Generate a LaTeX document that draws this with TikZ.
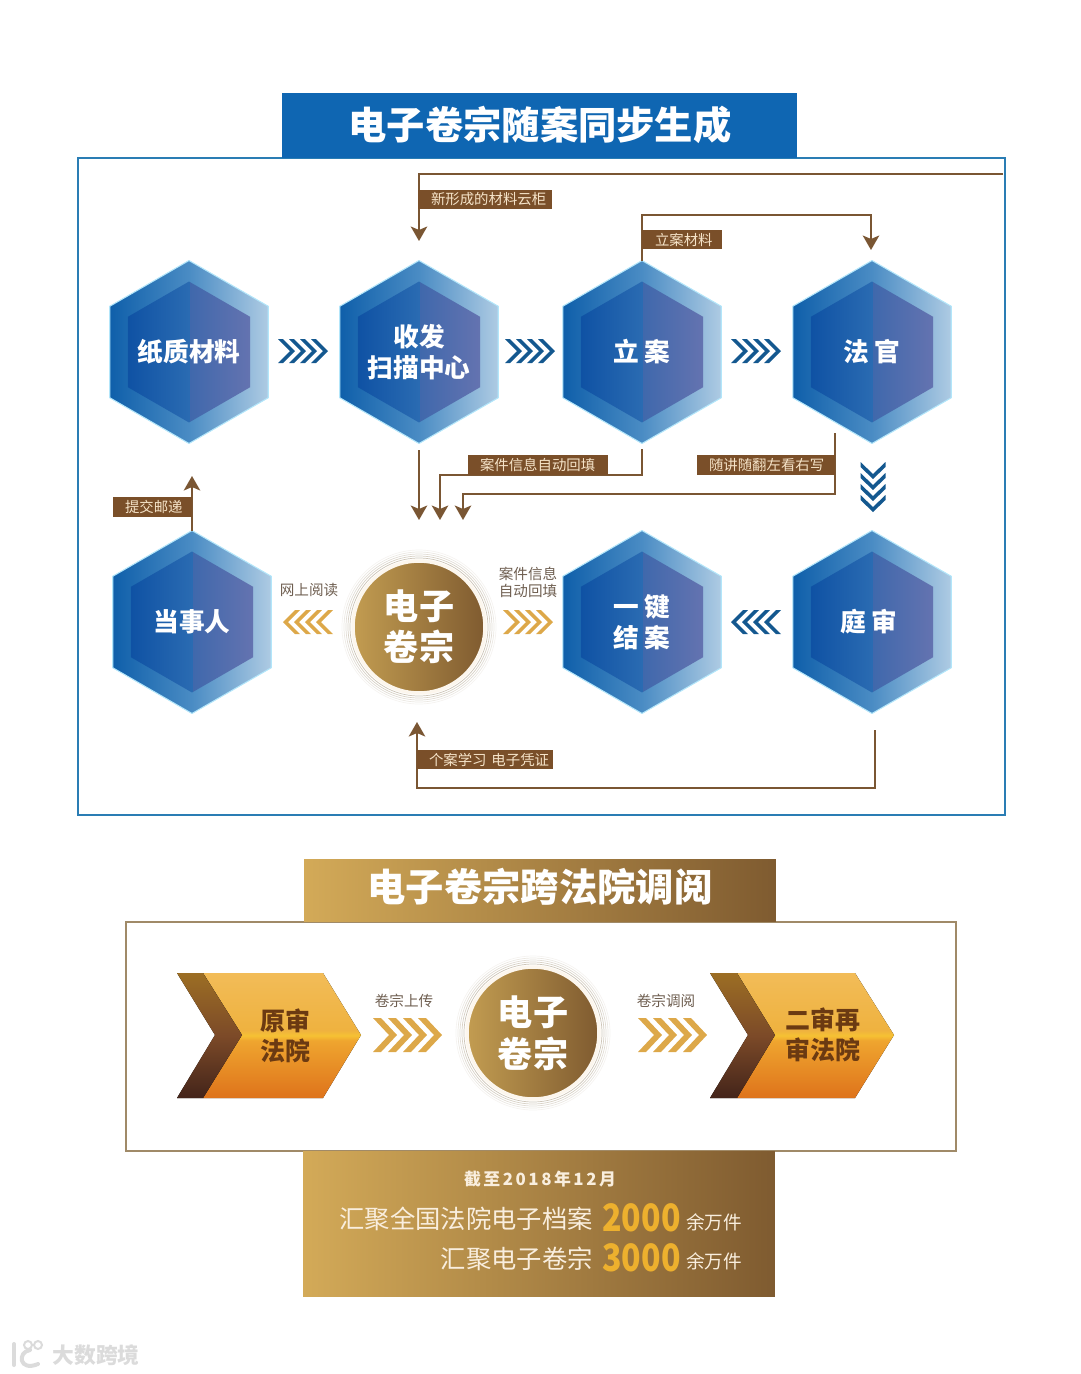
\documentclass[tikz,border=0pt]{standalone}
\usepackage{fontspec}
\usepackage{xcolor}
\usetikzlibrary{arrows.meta,shapes.geometric}
\setmainfont{Noto Sans CJK SC}
\definecolor{frameblue}{HTML}{2A7DB4}
\definecolor{titleblue}{HTML}{0F66B2}
\definecolor{chevblue}{HTML}{14588F}
\definecolor{chevgold}{HTML}{DDA849}
\definecolor{tagbrown}{HTML}{7A4F29}
\definecolor{tagcream}{HTML}{F5E3C8}
\definecolor{linebrown}{HTML}{7A5633}
\definecolor{goldleft}{HTML}{D3AA58}
\definecolor{goldright}{HTML}{7F5B30}
\definecolor{framegold}{HTML}{A08A68}
\definecolor{labelgrey}{HTML}{6E5E50}
\definecolor{figgold}{HTML}{EDB02E}
\definecolor{figtext}{HTML}{6B3A12}
\definecolor{ringtone}{HTML}{B8AC98}
\definecolor{hexa}{HTML}{0F5FAA}
\definecolor{hexb}{HTML}{4A8CC4}
\definecolor{hexc}{HTML}{AECBE3}
\definecolor{hexd}{HTML}{0F52A4}
\definecolor{hexe}{HTML}{2A6BB2}
\definecolor{hexf}{HTML}{3F68AC}
\definecolor{hexg}{HTML}{6473B0}
\definecolor{bodya}{HTML}{DE731B}
\definecolor{bodyb}{HTML}{EFA52F}
\definecolor{bodyc}{HTML}{F6C233}
\definecolor{bodyd}{HTML}{EFB23F}
\definecolor{bodye}{HTML}{F2BC58}
\definecolor{banda}{HTML}{43241A}
\definecolor{bandb}{HTML}{7C4A28}
\definecolor{bandc}{HTML}{9C6E24}
\pgfdeclarehorizontalshading{hexouter}{100bp}{color(0bp)=(hexa); color(25bp)=(hexa); color(50bp)=(hexb); color(75bp)=(hexc); color(100bp)=(hexc)}
\pgfdeclarehorizontalshading{hexinner}{100bp}{color(0bp)=(hexd); color(25bp)=(hexd); color(50bp)=(hexe); color(50.01bp)=(hexf); color(75bp)=(hexg); color(100bp)=(hexg)}
\pgfdeclareverticalshading{bodyfade}{100bp}{color(0bp)=(bodya); color(25bp)=(bodya); color(48bp)=(bodyb); color(50bp)=(bodyc); color(52bp)=(bodyd); color(75bp)=(bodye); color(100bp)=(bodye)}
\pgfdeclareverticalshading{bandfade}{100bp}{color(0bp)=(banda); color(25bp)=(banda); color(50bp)=(bandb); color(75bp)=(bandc); color(100bp)=(bandc)}
\tikzset{
  hexbase/.style={regular polygon, regular polygon sides=6, shape border rotate=30, inner sep=0pt, outer sep=0pt},
  hexout/.style={hexbase, minimum size=3.66cm, shading=hexouter, draw=cyan!30!white, line width=0.6pt},
  hexin/.style={hexbase, minimum size=2.82cm, shading=hexinner},
  hextext/.style={text=white, align=center, inner sep=0pt,
    font=\bfseries\fontsize{14.6}{17.6}\selectfont},
  tagbox/.style={fill=tagbrown, text=tagcream, inner sep=0pt, minimum height=0.39cm, align=left,
    font=\fontsize{8.2}{9}\selectfont},
  flowline/.style={draw=linebrown, line width=0.04cm},
  flowarrow/.style={flowline, -{Stealth[length=0.29cm, width=0.33cm, inset=0.07cm]}},
  smalllabel/.style={text=labelgrey, align=center, inner sep=0pt, font=\fontsize{8.3}{9.7}\selectfont},
  bigtitle/.style={text=white, inner sep=0pt, font=\bfseries\fontsize{21.8}{24}\selectfont},
  goldbar/.style={left color=goldleft, right color=goldright, inner sep=0pt, outer sep=0pt},
  dossier/.style={circle, inner sep=0pt, minimum size=2.64cm, left color=goldleft!92!black, right color=goldright,
    draw=white!90!chevgold, line width=0.07cm, text=white, align=center,
    font=\bfseries\fontsize{20}{23.5}\selectfont},
  courttext/.style={text=figtext, align=center, inner sep=0pt, font=\bfseries\fontsize{14.2}{17.2}\selectfont},
  sumtext/.style={text=tagcream!60!white, inner sep=0pt, font=\fontsize{14.4}{16}\selectfont},
  sumfig/.style={text=figgold, inner sep=0pt, font=\bfseries\fontsize{21.5}{22}\selectfont},
  sumunit/.style={text=tagcream!60!white, inner sep=0pt, font=\fontsize{10.6}{12}\selectfont},
}
% x, y, angle, colour, half height, depth, thickness, spacing
\newcommand{\chevrons}[8]{%
  \begin{scope}[shift={(#1,#2)}, rotate=#3]
    \foreach \k in {0,1,2,3} {
      \pgfmathsetmacro\xa{(\k-2)*#8-(#6+#7)/2+#8/2}
      \fill[#4] (\xa,-#5) -- ++(#7,0) -- ++(#6,#5) -- ++(-#6,#5) -- ++(-#7,0) -- ++(#6,-#5) -- cycle;
    }
  \end{scope}}
\begin{document}
\begin{tikzpicture}[x=0.02cm, y=-0.02cm]
  \useasboundingbox (0,0) rectangle (1080,1374);
  % Upper frame and title
  \draw[frameblue, line width=0.04cm] (78,158) rectangle (1005,815);
  \node[fill=titleblue, minimum width=10.3cm, minimum height=1.3cm, inner sep=0pt] (toptitle) at (539.5,125.5) {};
  \node[bigtitle] (toptext) at (540,125) {电子卷宗随案同步生成};
  % Hexagons
  \foreach \name/\cx/\cy/\txt in {%
    paper/189/352/{纸质材料},
    scan/419/352/{收发\\扫描中心},
    filing/642/352/{立 案},
    judge/872/352/{法 官},
    party/192/622/{当事人},
    closing/642/622/{一 键\\结 案},
    trial/872/622/{庭 审}
    } {
    \node[hexout] (\name) at (\cx,\cy) {};
    \node[hexin] (\name in) at (\cx,\cy) {};
    \node[hextext] (\name text) at (\cx,\cy) {\txt};
  }
  % Blue chevrons
  \chevrons{303}{351}{0}{chevblue}{12}{12}{5}{11}
  \chevrons{530}{351}{0}{chevblue}{12}{12}{5}{11}
  \chevrons{756}{351}{0}{chevblue}{12}{12}{5}{11}
  \chevrons{873}{487}{-90}{chevblue}{12.5}{12}{5}{11}
  \chevrons{756}{622}{180}{chevblue}{12}{12}{5}{11}
  % Centre disc
  \node[dossier] (disc) at (419,627) {电子\\卷宗};
  \foreach \r in {69,71,73,75,77} {
    \pgfmathsetmacro\shade{70-(\r-69)*7}
    \draw[ringtone!\shade!white, line width=0.4pt] (disc.center) circle (\r);
  }
  \node[smalllabel] (readlabel) at (309,590) {网上阅读};
  \node[smalllabel] (filllabel) at (528,582) {案件信息\\自动回填};
  \chevrons{308}{622}{180}{chevgold}{12}{12}{5}{11}
  \chevrons{528}{622}{0}{chevgold}{12}{12}{5}{11}
  % Connectors
  \coordinate (cloudin) at (1003,174);
  \coordinate (cloudtip) at (419,241);
  \coordinate (judgetip) at (871,250);
  \coordinate (filingtop) at (642,215);
  \coordinate (scanfoot) at (419,450);
  \coordinate (tipa) at (419,520);
  \coordinate (tipb) at (440,520);
  \coordinate (tipc) at (463,520);
  \coordinate (filingfoot) at (642,449);
  \coordinate (judgefoot) at (835,433);
  \coordinate (trialfoot) at (875,730);
  \coordinate (reviewtip) at (417,722);
  \coordinate (posttip) at (192,476);
  \draw[flowarrow] (cloudin) -- (419,174) -- (cloudtip);
  \draw[flowarrow] (filing.north) -- (filingtop) -| (judgetip);
  \draw[flowarrow] (scanfoot) -- (tipa);
  \draw[flowarrow] (filingfoot) -- (642,475) -| (tipb);
  \draw[flowarrow] (judgefoot) -- (835,494) -| (tipc);
  \draw[flowarrow] (party.north) -- (posttip);
  \draw[flowarrow] (trialfoot) -- (875,788) -| (reviewtip);
  % Brown tags
  \node[tagbox, text width=2.68cm] (cloudtag) at (485,199.5) {\hspace*{0.26cm}新形成的材料云柜};
  \node[tagbox, text width=1.6cm] (filingtag) at (682,239.5) {\hspace*{0.26cm}立案材料};
  \node[tagbox, text width=2.8cm] (autotag) at (538,465) {\hspace*{0.24cm}案件信息自动回填};
  \node[tagbox, text width=2.76cm] (notetag) at (766,465) {\hspace*{0.24cm}随讲随翻左看右写};
  \node[tagbox, text width=1.58cm] (posttag) at (152.5,507) {\hspace*{0.24cm}提交邮递};
  \node[tagbox, text width=2.72cm] (reviewtag) at (485,759.5) {\hspace*{0.24cm}个案学习 电子凭证};
  % Lower frame and title
  \draw[framegold, line width=0.03cm] (126,922) rectangle (956,1151);
  \node[goldbar, minimum width=9.44cm, minimum height=1.24cm] (midtitle) at (540,890.5) {};
  \node[bigtitle] (midtext) at (540,887) {电子卷宗跨法院调阅};
  % Court arrows
  \fill[shading=bodyfade] (203,973) -- (323,973) -- (361,1035) -- (323,1098) -- (203,1098) -- (242,1035) -- cycle;
  \fill[shading=bandfade] (177,973) -- (203,973) -- (242,1035) -- (203,1098) -- (177,1098) -- (215,1035) -- cycle;
  \fill[shading=bodyfade] (737,973) -- (855,973) -- (894,1035) -- (855,1098) -- (737,1098) -- (775,1035) -- cycle;
  \fill[shading=bandfade] (710,973) -- (737,973) -- (775,1035) -- (737,1098) -- (710,1098) -- (748,1035) -- cycle;
  \node[courttext] (firstcourt) at (285,1036) {原审\\法院};
  \node[courttext] (secondcourt) at (823,1035) {二审再\\审法院};
  \node[smalllabel] (uplabel) at (404,1001) {卷宗上传};
  \node[smalllabel] (readlabelb) at (666,1001) {卷宗调阅};
  \chevrons{407.5}{1035}{0}{chevgold}{17}{16}{8}{15}
  \chevrons{672.5}{1035}{0}{chevgold}{17}{16}{8}{15}
  \node[dossier, font=\bfseries\fontsize{20}{24}\selectfont] (discb) at (533,1033) {电子\\卷宗};
  \foreach \r in {69,71,73,75,77} {
    \pgfmathsetmacro\shade{70-(\r-69)*7}
    \draw[ringtone!\shade!white, line width=0.4pt] (discb.center) circle (\r);
  }
  % Summary
  \node[goldbar, minimum width=9.44cm, minimum height=2.9cm] (sumbox) at (539,1223.5) {};
  \node[text=tagcream!60!white, inner sep=0pt, font=\bfseries\fontsize{9.6}{11}\selectfont\addfontfeature{LetterSpace=15}] (sumdate) at (540,1179) {截至2018年12月};
  \node[sumtext, anchor=east] (sumone) at (593,1219) {汇聚全国法院电子档案};
  \node[sumfig, anchor=west] (figone) at (602,1218) {\scalebox{0.85}[1]{2000}};
  \node[sumunit, anchor=west] (unitone) at (686,1222) {余万件};
  \node[sumtext, anchor=east] (sumtwo) at (593,1259) {汇聚电子卷宗};
  \node[sumfig, anchor=west] (figtwo) at (602,1258) {\scalebox{0.85}[1]{3000}};
  \node[sumunit, anchor=west] (unittwo) at (686,1261) {余万件};
  % Watermark
  \node[text=black!14, inner sep=0pt, font=\bfseries\fontsize{12.4}{14}\selectfont] (mark) at (96,1355) {大数跨境};
  \draw[black!14, line width=0.08cm, line cap=round] (14,1344) -- (14,1365);
  \draw[black!14, line width=0.08cm, line cap=round] (30,1350) .. controls (17,1352) and (19,1372) .. (38,1364);
  \draw[black!14, line width=0.04cm] (28,1345) circle (4) (38,1345) circle (4);
\end{tikzpicture}
\end{document}
